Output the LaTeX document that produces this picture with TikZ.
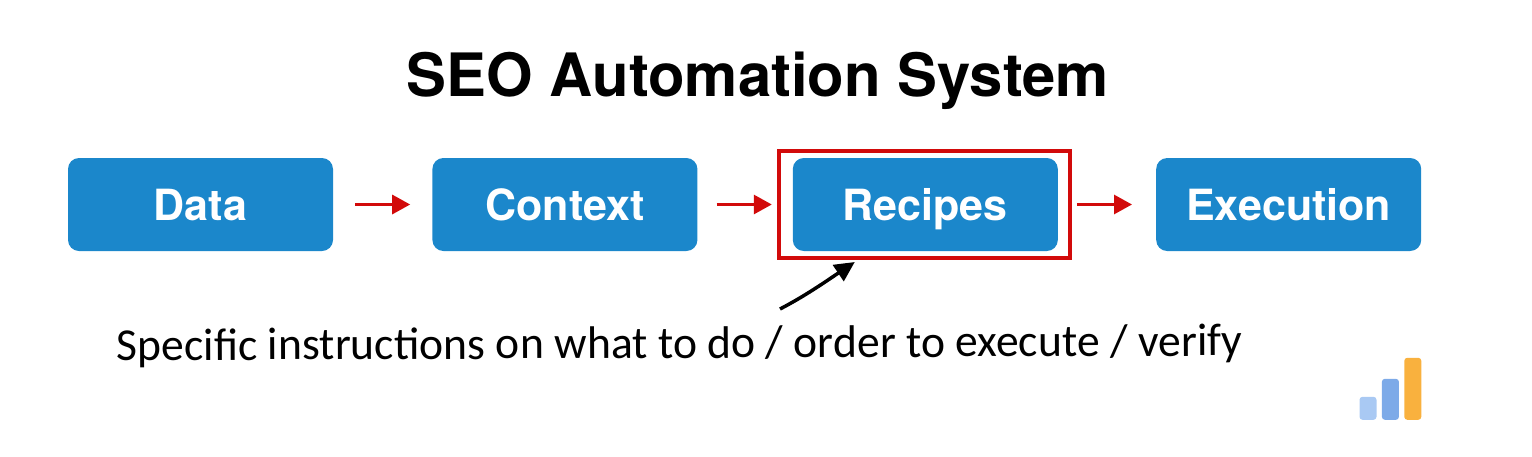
\documentclass[tikz,border=0pt]{standalone}
\usepackage{fontspec}
\setmainfont{TeX Gyre Heros}
\newfontfamily\notefont{Carlito}
\usetikzlibrary{arrows.meta,calc,positioning}
\definecolor{boxblue}{HTML}{1B87CB}
\definecolor{framered}{HTML}{D20A0A}
\definecolor{barlight}{HTML}{A9C9F3}
\definecolor{barmid}{HTML}{7DAAE8}
\definecolor{barorange}{HTML}{F9B13E}
\tikzset{%
	block/.style    = {fill=boxblue, rectangle, rounded corners=11pt, minimum height=93pt, minimum width=265pt, inner sep=0pt, text=white, text height=31pt, text depth=0pt, font=\fontsize{43}{43}\selectfont\bfseries},
	frame/.style    = {draw=framered, line width=4pt, rectangle, minimum height=107pt, minimum width=291pt, inner sep=0pt},
	arrow/.style    = {draw=framered, line width=3pt, -{Triangle[length=18pt,width=19pt]}},
	bar/.style      = {rectangle, rounded corners=3pt, minimum width=17pt, inner sep=0pt, anchor=south},
}
\begin{document}
\begin{tikzpicture}[x=1pt,y=1pt]
	\useasboundingbox (0,0) rectangle (1532,-456);
	\node [font=\fontsize{59.8}{60}\selectfont\bfseries] (title) at (758,-81) {SEO Automation System};
	\node [block] (data) at (200.5,-204.5) {Data};
	\node [block,right=99pt of data] (context) {Context};
	\node [block,right=95pt of context] (recipes) {Recipes};
	\node [block,right=98pt of recipes] (execution) {Execution};
	\node [frame,xshift=-1pt] (focus) at (recipes) {};
	\node [rotate=0.25,font=\notefont\fontsize{45.7}{46}\selectfont] (note) at (679.5,-346) {Specific instructions on what to do / order to execute / verify};
	\coordinate (tail) at (780,-309);
	\coordinate (head) at ($(focus.south west)+(78,-2)$);

	\draw [arrow,shorten <=22pt,shorten >=22pt] (data) -- (context);
	\draw [arrow,shorten <=19pt,shorten >=5pt] (context) -- (focus);
	\draw [arrow,shorten <=5pt,shorten >=24pt] (focus) -- (execution);
	\draw [line width=3.5pt,-{Triangle[length=20pt,width=19pt]}] (tail) .. controls (805,-296) and (825,-282) .. (head);

	% small logo in the corner
	\node [bar,fill=barlight,minimum height=23pt] (bara) at (1368,-420) {};
	\node [bar,fill=barmid,minimum height=41pt,right=5pt of bara.south east,anchor=south west] (barb) {};
	\node [bar,fill=barorange,minimum height=62pt,right=5pt of barb.south east,anchor=south west] (barc) {};
\end{tikzpicture}
\end{document}
